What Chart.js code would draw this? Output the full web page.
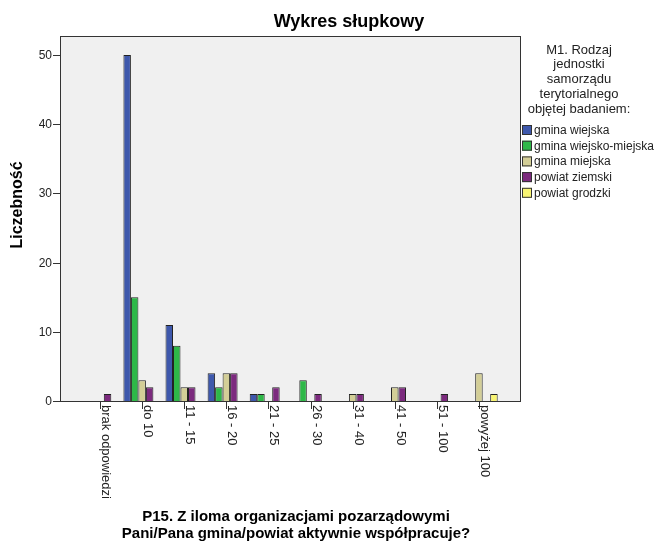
<!DOCTYPE html>
<html>
<head>
<meta charset="utf-8">
<script src="https://cdn.jsdelivr.net/npm/chart.js@4.4.0/dist/chart.umd.min.js"></script>
<style>
  html, body { margin: 0; padding: 0; background: #fff; }
  canvas { display: block; }
</style>
</head>
<body>
<canvas id="chart" width="654" height="543"></canvas>
<script>
const categories = ['brak odpowiedzi', 'do 10', '11 - 15', '16 - 20', '21 - 25', '26 - 30', '31 - 40', '41 - 50', '51 - 100', 'powyżej 100'];
const seriesNames = ['gmina wiejska', 'gmina wiejsko-miejska', 'gmina miejska', 'powiat ziemski', 'powiat grodzki'];
const gminaWiejska = [null, 50, 11, 4, 1, null, null, null, null, null];
const gminaWiejskoMiejska = [null, 15, 8, 2, 1, 3, null, null, null, null];
const gminaMiejska = [null, 3, 2, 4, null, null, 1, 2, null, 4];
const powiatZiemski = [1, 2, 2, 4, 2, 1, 1, 2, 1, null];
const powiatGrodzki = [null, null, null, null, null, null, null, null, null, 1];
const yTicks = [0, 10, 20, 30, 40, 50];
const legendTitle = ['M1. Rodzaj', 'jednostki', 'samorządu', 'terytorialnego', 'objętej badaniem:'];
const xTitle = ['P15. Z iloma organizacjami pozarządowymi', 'Pani/Pana gmina/powiat aktywnie współpracuje?'];

const colors = ['#3e58ac', '#2eb848', '#d3ce97', '#7c2a7e', '#f8f472'];
const FONT = "'Liberation Sans', Arial, sans-serif";

// plot frame (SPSS style: frame wider than the category area)
const frame = { left: 60, top: 36, right: 520, bottom: 401 };

const spssPlugin = {
    id: 'spss',
    beforeDatasetsDraw(chart) {
        const ctx = chart.ctx;
        ctx.save();
        ctx.fillStyle = '#f0f0f0';
        ctx.fillRect(frame.left, frame.top, frame.right - frame.left, frame.bottom - frame.top);
        ctx.restore();
    },
    afterDatasetsDraw(chart) {
        const ctx = chart.ctx;
        const x = chart.scales.x;
        const y = chart.scales.y;
        ctx.save();

        // frame
        ctx.strokeStyle = '#333';
        ctx.lineWidth = 1;
        ctx.strokeRect(frame.left + 0.5, frame.top + 0.5, frame.right - frame.left, frame.bottom - frame.top);

        // y ticks
        ctx.fillStyle = '#222';
        ctx.font = '12px ' + FONT;
        ctx.textAlign = 'right';
        ctx.textBaseline = 'middle';
        yTicks.forEach(v => {
            const py = Math.round(y.getPixelForValue(v)) + 0.5;
            ctx.beginPath();
            ctx.moveTo(frame.left - 7, py);
            ctx.lineTo(frame.left, py);
            ctx.stroke();
            ctx.fillText(String(v), frame.left - 8, py + 0.5);
        });

        // x ticks, labels rotated clockwise
        ctx.textAlign = 'left';
        ctx.font = '13px ' + FONT;
        categories.forEach((c, i) => {
            const px = Math.round(x.getPixelForValue(i)) + 0.5;
            ctx.beginPath();
            ctx.moveTo(px, frame.bottom + 1);
            ctx.lineTo(px, frame.bottom + 8);
            ctx.stroke();
            ctx.save();
            ctx.translate(px + 5, frame.bottom + 4);
            ctx.rotate(Math.PI / 2);
            ctx.textBaseline = 'middle';
            ctx.fillText(c, 0, 0);
            ctx.restore();
        });

        // title
        ctx.fillStyle = '#000';
        ctx.textAlign = 'center';
        ctx.textBaseline = 'middle';
        ctx.font = 'bold 18px ' + FONT;
        ctx.fillText('Wykres słupkowy', 349, 22);

        // y axis title
        ctx.save();
        ctx.translate(18, 205);
        ctx.rotate(-Math.PI / 2);
        ctx.font = 'bold 16px ' + FONT;
        ctx.fillText('Liczebność', 0, 0);
        ctx.restore();

        // x axis title
        ctx.font = 'bold 15px ' + FONT;
        xTitle.forEach((t, i) => ctx.fillText(t, 296, 517 + i * 17));

        // legend
        ctx.fillStyle = '#222';
        ctx.font = '13px ' + FONT;
        legendTitle.forEach((t, i) => ctx.fillText(t, 579, 50 + i * 14.8));
        ctx.textAlign = 'left';
        ctx.font = '12px ' + FONT;
        seriesNames.forEach((n, i) => {
            const ly = 130 + i * 15.7;
            ctx.fillStyle = colors[i];
            ctx.fillRect(522, ly - 5, 10, 10);
            ctx.strokeStyle = '#333';
            ctx.strokeRect(522.5, ly - 4.5, 9, 9);
            ctx.fillStyle = '#222';
            ctx.fillText(n, 534, ly + 0.5);
        });

        ctx.restore();
    }
};

const seriesData = [gminaWiejska, gminaWiejskoMiejska, gminaMiejska, powiatZiemski, powiatGrodzki];

new Chart(document.getElementById('chart').getContext('2d'), {
    type: 'bar',
    data: {
        labels: categories,
        datasets: seriesData.map((d, i) => ({
            label: seriesNames[i],
            data: d,
            backgroundColor: colors[i],
            borderColor: '#222',
            borderWidth: 1,
            categoryPercentage: 0.89,
            barPercentage: 1.0
        }))
    },
    options: {
        responsive: false,
        animation: false,
        layout: {
            padding: { left: 79, right: 154, top: 36, bottom: 142 }
        },
        plugins: {
            legend: { display: false },
            title: { display: false },
            tooltip: { enabled: false }
        },
        scales: {
            x: { display: false },
            y: { display: false, min: 0, max: 52.75 }
        }
    },
    plugins: [spssPlugin]
});
</script>
</body>
</html>
